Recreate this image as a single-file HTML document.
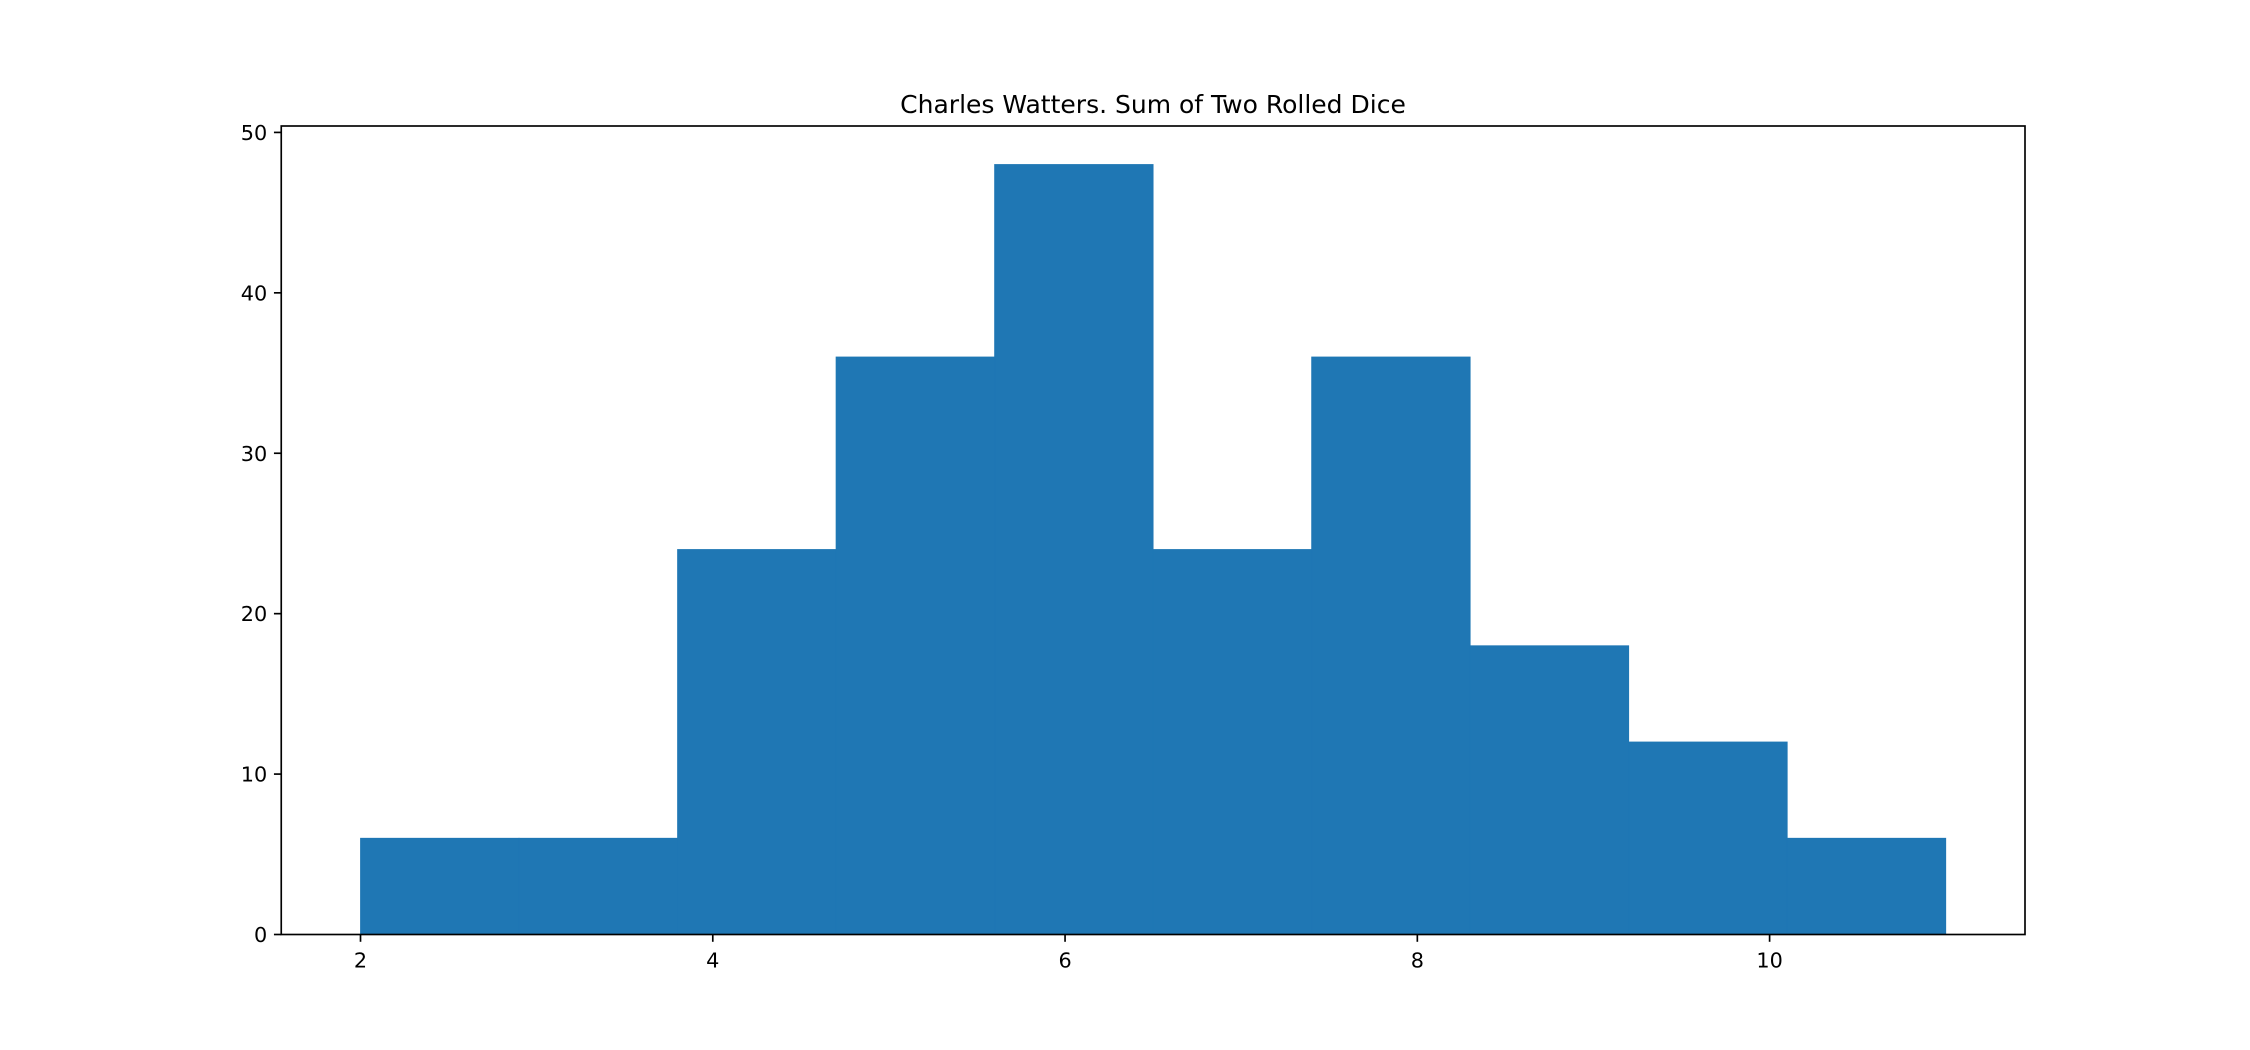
<!DOCTYPE html>
<html><head><meta charset="utf-8"><style>
html,body{margin:0;padding:0;background:#fff;}
svg{display:block;font-family:"DejaVu Sans","Liberation Sans",sans-serif;}
</style></head><body>
<svg id="chart" width="2250" height="1050" viewBox="0 0 2250 1050">
<rect width="2250" height="1050" fill="#fff"/>
<text x="1153" y="113" font-size="25" text-anchor="middle" fill="#000">Charles Watters. Sum of Two Rolled Dice</text>
<g id="bars"></g>
<g id="axes"></g>
</svg>
<script>
const binEdges = [2, 2.9, 3.8, 4.7, 5.6, 6.5, 7.4, 8.3, 9.2, 10.1, 11];
const counts = [6, 6, 24, 36, 48, 24, 36, 18, 12, 6];
const xTicks = [2, 4, 6, 8, 10];
const yTicks = [0, 10, 20, 30, 40, 50];

const L = 281.25, R = 2025, T = 126, B = 934.5;
const xMin = 1.55, xMax = 11.45, yMin = 0, yMax = 50.4;
const NS = 'http://www.w3.org/2000/svg';
function sx(v){ return L + (v - xMin) / (xMax - xMin) * (R - L); }
function sy(v){ return B - (v - yMin) / (yMax - yMin) * (B - T); }
function mk(tag, attrs, parent){
  const e = document.createElementNS(NS, tag);
  for (const k in attrs) e.setAttribute(k, attrs[k]);
  parent.appendChild(e);
  return e;
}
const bars = document.getElementById('bars');
const axes = document.getElementById('axes');
counts.forEach((c, i) => {
  const x0 = sx(binEdges[i]), x1 = sx(binEdges[i+1]);
  const r = mk('rect', {x: x0, y: sy(c), width: x1 - x0, height: sy(0) - sy(c), fill: '#1f77b4', stroke: '#1f77b4', 'stroke-width': 0.8}, bars);
  
  
});
xTicks.forEach(t => {
  const x = sx(t);
  const l = mk('line', {x1: x, x2: x, y1: B, y2: B + 7.3, stroke: '#000', 'stroke-width': 1.67}, axes);
  
  
  const tx = mk('text', {x: x, y: B + 33, 'font-size': 20.8, 'text-anchor': 'middle', fill: '#000'}, axes);
  tx.textContent = t;
  
  
});
yTicks.forEach(t => {
  const y = sy(t);
  const l = mk('line', {x1: L - 7.3, x2: L, y1: y, y2: y, stroke: '#000', 'stroke-width': 1.67}, axes);
  
  
  const tx = mk('text', {x: L - 14, y: y + 7.5, 'font-size': 20.8, 'text-anchor': 'end', fill: '#000'}, axes);
  tx.textContent = t;
  
  
});
const frame = mk('rect', {x: L, y: T, width: R - L, height: B - T, fill: 'none', stroke: '#000', 'stroke-width': 1.67}, axes);


</script>
</body></html>
